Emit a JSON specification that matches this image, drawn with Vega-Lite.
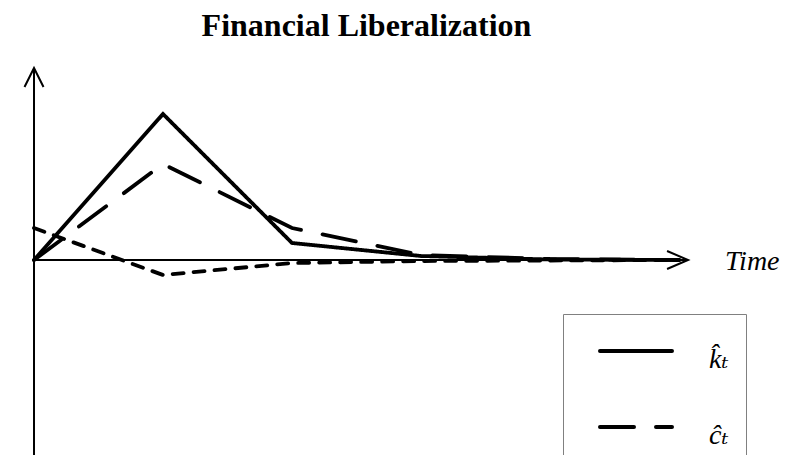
{
  "$schema": "https://vega.github.io/schema/vega-lite/v6.json",
  "width": 795,
  "height": 395,
  "autosize": {"type": "none"},
  "padding": {"top": 60, "left": 0, "right": 0, "bottom": 0},
  "background": "white",
  "title": {"text": "Financial Liberalization", "font": "Liberation Serif", "fontSize": 32, "fontWeight": "bold", "color": "black", "anchor": "middle", "frame": "group", "offset": 22, "dy": 30, "baseline": "alphabetic", "dx": -31},
  "datasets": {
    "lines": [
      {"t": 0, "v": 0, "series": "k"},
      {"t": 1, "v": 14.6, "series": "k"},
      {"t": 2, "v": 1.7, "series": "k"},
      {"t": 3, "v": 0.4, "series": "k"},
      {"t": 4, "v": 0.05, "series": "k"},
      {"t": 5, "v": 0, "series": "k"},
      {"t": 0, "v": 0, "series": "c"},
      {"t": 1, "v": 9.6, "series": "c"},
      {"t": 2, "v": 3.2, "series": "c"},
      {"t": 3, "v": 0.5, "series": "c"},
      {"t": 4, "v": 0.1, "series": "c"},
      {"t": 5, "v": 0, "series": "c"},
      {"t": 0, "v": 3.2, "series": "s"},
      {"t": 1, "v": -1.5, "series": "s"},
      {"t": 2, "v": -0.3, "series": "s"},
      {"t": 3, "v": -0.1, "series": "s"},
      {"t": 4, "v": -0.05, "series": "s"},
      {"t": 5, "v": 0, "series": "s"}
    ],
    "axes": [
      {"t": 0, "v": 0, "t2": 5.07, "v2": 0},
      {"t": 0, "v": 19.2, "t2": 0, "v2": -25}
    ],
    "arrows": [
      {"t": 5.07, "v": 0, "dir": "right"},
      {"t": 0, "v": 19.2, "dir": "up"}
    ],
    "labels": [
      {"t": 5.357, "v": 0, "text": "Time"}
    ]
  },
  "encoding": {
    "x": {"field": "t", "type": "quantitative", "axis": null, "scale": {"domain": [-0.2636, 5.899], "nice": false, "zero": false}},
    "y": {"field": "v", "type": "quantitative", "axis": null, "scale": {"domain": [-19.5, 20], "nice": false, "zero": false}}
  },
  "layer": [
    {
      "data": {"name": "axes"},
      "mark": {"type": "rule", "color": "black", "strokeWidth": 2},
      "encoding": {
        "x2": {"field": "t2"},
        "y2": {"field": "v2"}
      }
    },
    {
      "data": {"name": "arrows"},
      "transform": [{"filter": "datum.dir == 'right'"}],
      "mark": {"type": "point", "shape": "M-1,-0.43L0,0L-1,0.43", "size": 1764, "filled": false, "color": "black", "strokeWidth": 2, "opacity": 1}
    },
    {
      "data": {"name": "arrows"},
      "transform": [{"filter": "datum.dir == 'up'"}],
      "mark": {"type": "point", "shape": "M-0.5,1L0,0L0.5,1", "size": 1444, "filled": false, "color": "black", "strokeWidth": 2, "opacity": 1}
    },
    {
      "data": {"name": "lines"},
      "mark": {"type": "line", "color": "black", "strokeWidth": 3.8, "strokeCap": "round", "strokeJoin": "miter"},
      "encoding": {
        "strokeDash": {
          "field": "series",
          "type": "nominal",
          "scale": {"domain": ["k", "c", "s"], "range": [[1, 0], [34, 22], [11, 10]]},
          "legend": {
            "title": null,
            "values": ["k", "c"],
            "orient": "none",
            "legendX": 563,
            "legendY": 254,
            "padding": 17,
            "strokeColor": "#808080",
            "fillColor": "white",
            "cornerRadius": 0,
            "symbolType": "M-2,0L2,0",
            "symbolSize": 1296,
            "symbolStrokeWidth": 4,
            "symbolStrokeColor": "black",
            "symbolOffset": 36,
            "rowPadding": 33,
            "labelOffset": 53,
            "labelFont": "Liberation Serif, DejaVu Serif",
            "labelFontStyle": "italic",
            "labelFontSize": 28,
            "labelBaseline": "alphabetic",
            "labelColor": "black",
            "labelExpr": "datum.value == 'k' ? 'k̂ₜ' : 'ĉₜ'",
            "encode": {
              "symbols": {"update": {"strokeCap": {"value": "round"}}},
              "labels": {"update": {"dy": {"value": 17}}}
            }
          }
        }
      }
    },
    {
      "data": {"name": "labels"},
      "mark": {"type": "text", "font": "Liberation Serif", "fontStyle": "italic", "fontSize": 28, "align": "left", "baseline": "alphabetic", "color": "black", "dy": 10},
      "encoding": {
        "text": {"field": "text"}
      }
    }
  ],
  "config": {"view": {"stroke": null}}
}
